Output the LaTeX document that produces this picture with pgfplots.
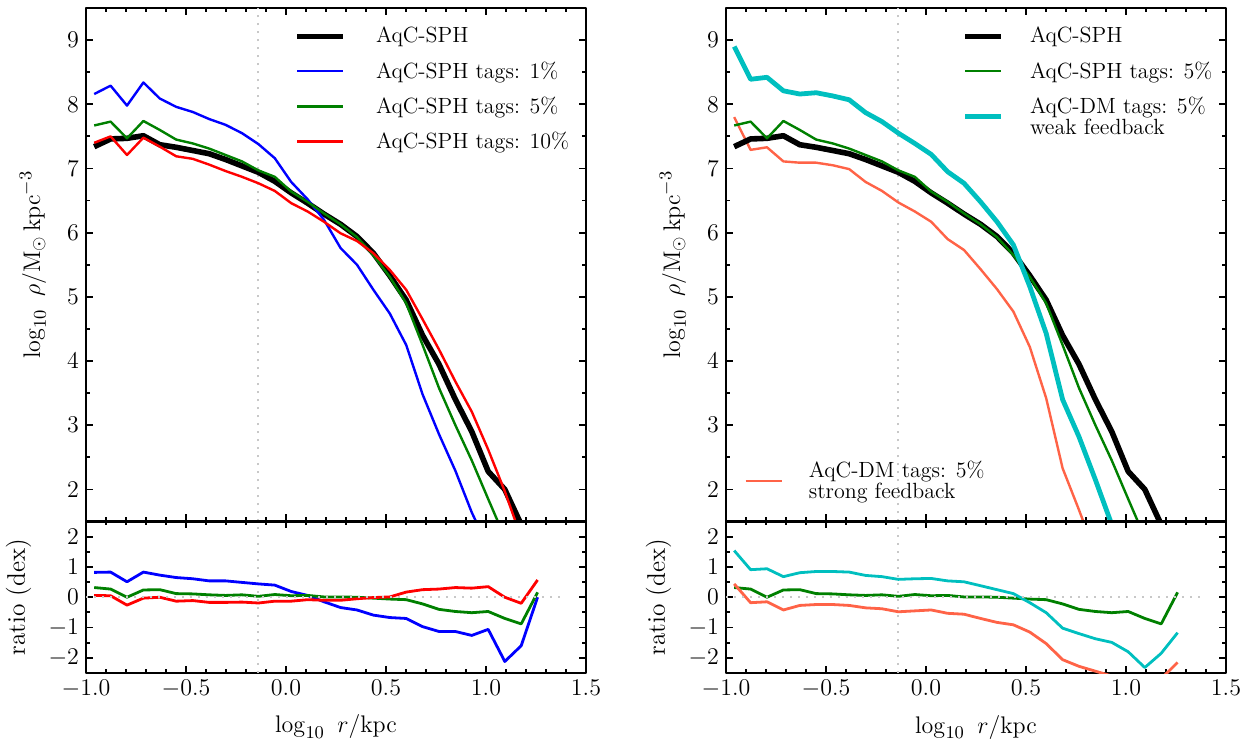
\documentclass[border=0pt]{standalone}
\usepackage{pgfplots}
\usepackage{pgfplotstable}
\pgfplotsset{compat=1.18}
\definecolor{mgreen}{RGB}{0,128,0}
\definecolor{mblue}{RGB}{0,0,255}
\definecolor{mred}{RGB}{255,0,0}
\definecolor{mcyan}{RGB}{0,191,191}
\definecolor{msalmon}{RGB}{255,99,71}
\definecolor{dotgray}{RGB}{200,200,200}

\pgfplotstableread{
x      blk  blu  grn  red  cyn  sal
-0.959 7.34 8.16 7.67 7.40 8.90 7.80
-0.877 7.46 8.29 7.73 7.50 8.39 7.29
-0.795 7.47 7.98 7.47 7.21 8.42 7.33
-0.713 7.51 8.34 7.74 7.48 8.21 7.11
-0.631 7.37 8.09 7.60 7.34 8.16 7.09
-0.549 7.33 7.96 7.45 7.19 8.18 7.09
-0.466 7.28 7.88 7.39 7.15 8.13 7.05
-0.384 7.23 7.77 7.31 7.06 8.07 6.99
-0.302 7.14 7.68 7.21 6.96 7.87 6.79
-0.220 7.04 7.55 7.11 6.87 7.73 6.65
-0.138 6.94 7.38 6.97 6.77 7.55 6.47
-0.056 6.80 7.16 6.87 6.65 7.39 6.33
0.026  6.62 6.79 6.64 6.46 7.22 6.17
0.108  6.46 6.52 6.48 6.33 6.95 5.90
0.190  6.29 6.20 6.30 6.17 6.77 5.73
0.273  6.13 5.76 6.13 5.99 6.48 5.43
0.355  5.94 5.50 5.93 5.87 6.17 5.12
0.437  5.68 5.11 5.65 5.68 5.81 4.77
0.519  5.33 4.74 5.31 5.42 5.16 4.22
0.601  4.95 4.25 4.90 5.11 4.43 3.42
0.683  4.40 3.48 4.25 4.65 3.40 2.33
0.765  3.95 2.86 3.58 4.18 2.82 1.68
0.847  3.40 2.29 3.00 3.68 2.15 1.00
0.929  2.90 1.64 2.45 3.21 1.45 0.40
1.011  2.28 1.10 1.85 2.62 0.50 -0.30
1.094  2.00 0.50 1.25 1.97 -0.30 -0.90
1.176  1.45 0.00 0.55 1.25 -0.40 -1.20
1.258  0.90 0.90 1.05 1.45 -0.30 -1.20
}\dens

\pgfplotstableread{
x      blu   grn   red   cyn   sal
-0.959 0.82  0.32  0.06  1.54  0.44
-0.877 0.83  0.27  0.05  0.91  -0.18
-0.795 0.51  0.00  -0.26 0.94  -0.15
-0.713 0.83  0.24  -0.03 0.68  -0.42
-0.631 0.73  0.25  0.00  0.81  -0.27
-0.549 0.65  0.12  -0.13 0.85  -0.24
-0.466 0.61  0.11  -0.11 0.85  -0.24
-0.384 0.54  0.08  -0.17 0.83  -0.27
-0.302 0.54  0.06  -0.17 0.72  -0.35
-0.220 0.49  0.08  -0.16 0.68  -0.38
-0.138 0.44  0.03  -0.19 0.59  -0.48
-0.056 0.40  0.09  -0.13 0.61  -0.45
0.026  0.19  0.05  -0.13 0.62  -0.42
0.108  0.06  0.06  -0.08 0.54  -0.53
0.190  -0.15 0.01  -0.10 0.51  -0.56
0.273  -0.34 0.01  -0.10 0.38  -0.70
0.355  -0.42 0.00  -0.05 0.25  -0.83
0.437  -0.59 -0.03 -0.01 0.12  -0.91
0.519  -0.67 -0.06 0.01  -0.18 -1.15
0.601  -0.70 -0.08 0.17  -0.51 -1.53
0.683  -0.97 -0.22 0.25  -1.02 -2.06
0.765  -1.13 -0.40 0.27  -1.20 -2.28
0.847  -1.13 -0.47 0.32  -1.37 -2.44
0.929  -1.26 -0.51 0.30  -1.49 -2.60
1.011  -1.06 -0.47 0.35  -1.80 -2.75
1.094  -2.12 -0.70 0.00  -2.32 -2.90
1.176  -1.60 -0.88 -0.20 -1.85 -2.69
1.258  0.00  0.16  0.57  -1.17 -2.15
}\rat

\pgfplotsset{
  base/.style={scale only axis, width=250pt, xmin=-1, xmax=1.5,
    xtick={-1,-0.5,0,0.5,1,1.5}, minor x tick num=4,
    tick align=inside, xtick pos=both, ytick pos=both,
    major tick length=3.5pt, minor tick length=2pt,
    tick style={black, line width=0.9pt},
    axis line style={line width=1.4pt},
    ticklabel style={font=\fontsize{12.6}{14}\selectfont},
    label style={font=\fontsize{12.7}{14}\selectfont},
    anchor=south west, line join=round},
  main/.style={base, height=256.75pt, ymin=1.5, ymax=9.5,
    ytick={2,3,4,5,6,7,8,9}, minor y tick num=1, xticklabels={},
    ylabel={$\log_{10}\ \rho/\mathrm{M_{\odot}\,kpc^{-3}}$},
    ylabel style={at={(axis description cs:-0.106,0.5)}, anchor=center}},
  ratio/.style={base, height=75.75pt, ymin=-2.5, ymax=2.5,
    ytick={-2,-1,0,1,2}, minor y tick num=1,
    xticklabel style={/pgf/number format/.cd, fixed, fixed zerofill, precision=1},
    xlabel={$\log_{10}\ r/\mathrm{kpc}$},
    xlabel style={at={(axis description cs:0.5,0)}, anchor=center, yshift=-27pt},
    ylabel={ratio (dex)},
    ylabel style={at={(axis description cs:-0.135,0.5)}, anchor=center}},
  leg/.style 2 args={legend cell align=left,
    legend image code/.code={\draw[##1] (0pt,0pt) -- (#1,0pt);},
    legend style={draw=none, fill=none, font=\fontsize{11}{10.5}\selectfont,
      cells={anchor=west, align=left}, row sep=3.8pt,
      /tikz/every odd column/.append style={column sep=#2}}},
  vdot/.style={dotgray, line width=1pt, dash pattern=on 1pt off 3pt, forget plot},
}

\begin{document}
\begin{tikzpicture}
\useasboundingbox (0,0) rectangle (627.5pt,372.5pt);

% ---------- left main ----------
\begin{axis}[main, at={(43pt,111.75pt)}, leg={23pt}{13pt},
  legend style={at={(axis description cs:0.404,0.979)}, anchor=north west}]
\addplot[vdot] coordinates {(-0.14,1.5) (-0.14,9.5)};
\addplot[black, line width=2.8pt] table[x=x,y=blk] {\dens};
\addlegendentry{AqC-SPH}
\addplot[mblue, line width=1.2pt] table[x=x,y=blu] {\dens};
\addlegendentry{AqC-SPH tags: 1\%}
\addplot[mgreen, line width=1.2pt] table[x=x,y=grn] {\dens};
\addlegendentry{AqC-SPH tags: 5\%}
\addplot[mred, line width=1.2pt] table[x=x,y=red] {\dens};
\addlegendentry{AqC-SPH tags: 10\%}
\end{axis}

% ---------- left ratio ----------
\begin{axis}[ratio, at={(43pt,36pt)}]
\addplot[vdot] coordinates {(-0.14,-2.5) (-0.14,2.5)};
\addplot[mblue, line width=1.4pt] table[x=x,y=blu] {\rat};
\addplot[mgreen, line width=1.4pt] table[x=x,y=grn] {\rat};
\addplot[mred, line width=1.4pt] table[x=x,y=red] {\rat};
\addplot[vdot] coordinates {(-1,0) (1.4,0)};
\end{axis}

% ---------- right main ----------
\begin{axis}[main, at={(363pt,111.75pt)}, leg={18pt}{11pt},
  legend style={at={(axis description cs:0.46,0.979)}, anchor=north west}]
\addplot[vdot] coordinates {(-0.14,1.5) (-0.14,9.5)};
\addplot[msalmon, line width=1.2pt, forget plot] table[x=x,y=sal] {\dens};
\addplot[black, line width=2.8pt] table[x=x,y=blk] {\dens};
\addlegendentry{AqC-SPH}
\addplot[mgreen, line width=1.2pt] table[x=x,y=grn] {\dens};
\addlegendentry{AqC-SPH tags: 5\%}
\addplot[mcyan, line width=2.4pt] table[x=x,y=cyn] {\dens};
\addlegendentry{AqC-DM tags: 5\%\\weak feedback}
\end{axis}

% second legend (strong feedback)
\begin{axis}[scale only axis, width=250pt, height=256.75pt, at={(363pt,111.75pt)},
  anchor=south west, xmin=-1, xmax=1.5, ymin=1.5, ymax=9.5, hide axis, leg={18pt}{11pt},
  legend style={at={(axis description cs:0.024,0.079)}, anchor=west}]
\addlegendimage{msalmon, line width=1.2pt}
\addlegendentry{AqC-DM tags: 5\%\\strong feedback}
\end{axis}

% ---------- right ratio ----------
\begin{axis}[ratio, at={(363pt,36pt)}]
\addplot[vdot] coordinates {(-0.14,-2.5) (-0.14,2.5)};
\addplot[mgreen, line width=1.4pt] table[x=x,y=grn] {\rat};
\addplot[mcyan, line width=1.4pt] table[x=x,y=cyn] {\rat};
\addplot[msalmon, line width=1.4pt] table[x=x,y=sal] {\rat};
\addplot[vdot] coordinates {(-1,0) (1.4,0)};
\end{axis}
\end{tikzpicture}
\end{document}
